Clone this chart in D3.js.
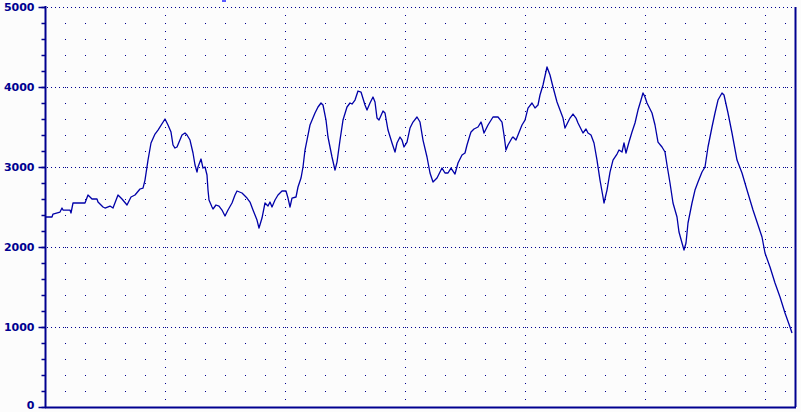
<!DOCTYPE html>
<html><head><meta charset="utf-8">
<script src="https://cdn.jsdelivr.net/npm/d3@7/dist/d3.min.js"></script>
<style>html,body{margin:0;padding:0;background:#fcfcfc;}svg{display:block;}</style>
</head><body>
<script>
const yTickValues = [0, 1000, 2000, 3000, 4000, 5000];
const yTickLabels = ["0", "1000", "2000", "3000", "4000", "5000"];
const samplePos = [0,7,8,15,17,18,25,26,28,40,43,47,52,53,58,60,65,68,73,77,82,86,90,95,98,100,103,106,110,113,120,123,126,128,130,132,137,140,142,145,148,150,152,153,156,158,160,162,163,164,167,168,171,174,177,180,183,187,190,192,197,202,205,208,212,214,217,220,223,225,227,230,233,237,241,243,245,247,251,253,256,258,260,262,265,270,273,276,278,281,283,287,290,292,295,298,302,305,307,310,313,316,320,322,325,328,330,332,334,338,340,343,347,350,352,355,357,359,362,365,368,372,375,378,382,385,388,392,395,397,400,403,406,410,413,417,420,422,425,426,429,433,436,437,439,443,448,453,457,459,461,463,467,468,471,473,477,480,483,487,490,493,495,498,502,505,508,512,515,518,520,523,525,528,531,533,538,541,543,546,549,552,555,558,559,562,565,568,572,574,577,579,581,584,587,590,593,596,598,600,602,607,610,613,617,620,622,625,628,632,634,637,639,641,643,647,650,653,657,660,663,667,670,673,677,679,683,687,692,697,702,708,713,717,720,725,730,735,740,745,747];
const altitude = [2375,2375,2412,2437,2487,2462,2462,2425,2550,2550,2650,2600,2600,2562,2500,2487,2512,2487,2650,2600,2525,2625,2650,2725,2737,2837,3087,3300,3412,3462,3600,3525,3437,3275,3237,3250,3400,3425,3400,3337,3175,3025,2937,3000,3100,2987,3000,2900,2712,2587,2500,2475,2525,2512,2462,2387,2462,2550,2650,2700,2675,2612,2562,2462,2337,2237,2362,2550,2512,2562,2500,2587,2650,2700,2700,2612,2500,2612,2625,2750,2862,3000,3212,3337,3525,3675,3750,3800,3775,3587,3375,3125,2962,3062,3337,3587,3750,3800,3787,3837,3950,3937,3775,3712,3800,3875,3812,3612,3587,3700,3675,3462,3300,3187,3300,3375,3337,3250,3312,3487,3562,3625,3562,3337,3125,2925,2812,2862,2937,2987,2925,2925,2987,2912,3050,3150,3175,3275,3400,3437,3475,3500,3562,3525,3425,3525,3625,3625,3562,3400,3212,3275,3362,3375,3337,3400,3525,3587,3737,3800,3737,3775,3900,4025,4250,4150,4000,3812,3712,3612,3487,3562,3612,3662,3612,3550,3425,3475,3425,3400,3300,3087,2837,2625,2550,2712,2937,3087,3162,3212,3187,3300,3175,3312,3437,3550,3712,3837,3925,3875,3800,3675,3525,3312,3250,3187,3025,2800,2550,2375,2187,2050,1962,2050,2300,2550,2712,2812,2937,3000,3250,3500,3675,3837,3925,3900,3675,3425,3087,2925,2712,2462,2275,2125,1925,1750,1550,1375,1175,1000,925];

const W = 801, H = 412;
const plotLeft = 45, plotRight = 795, plotTop = 7, plotBottom = 407;
const axisColor = "#000090", lineColor = "#0000a8";

const svg = d3.select("body").append("svg").attr("width", W).attr("height", H);
svg.append("rect").attr("width", W).attr("height", H).attr("fill", "#fcfcfc");

const x = d3.scaleLinear().domain([0, 750]).range([plotLeft, plotRight]);
const y = d3.scaleLinear().domain([0, 5000]).range([plotBottom, plotTop]);

const g = svg.append("g");
const minorX = d3.range(20, 750, 20).filter(v => v % 120 !== 0);
g.selectAll("line.mv").data(minorX).join("line")
  .attr("x1", d => Math.round(x(d)) + 0.5).attr("x2", d => Math.round(x(d)) + 0.5)
  .attr("y1", y(5000) + 16).attr("y2", plotBottom)
  .attr("stroke", axisColor).attr("stroke-dasharray", "1,15").attr("stroke-width", 1);
const majorX = d3.range(120, 750, 120);
g.selectAll("line.Mv").data(majorX).join("line")
  .attr("x1", d => Math.round(x(d)) + 0.5).attr("x2", d => Math.round(x(d)) + 0.5)
  .attr("y1", y(5000) + 8).attr("y2", plotBottom)
  .attr("stroke", axisColor).attr("stroke-dasharray", "1,7").attr("stroke-width", 1);
g.selectAll("line.Mh").data(yTickValues.filter(v => v > 0)).join("line")
  .attr("x1", plotLeft + 2).attr("x2", plotRight)
  .attr("y1", d => Math.round(y(d)) + 0.5).attr("y2", d => Math.round(y(d)) + 0.5)
  .attr("stroke", axisColor).attr("stroke-dasharray", "1,3").attr("stroke-width", 1);

const n = Math.min(samplePos.length, altitude.length);
const line = d3.line().x((d, i) => x(samplePos[i])).y(d => y(d));
svg.append("path").datum(altitude.slice(0, n)).attr("d", line)
  .attr("fill", "none").attr("stroke", lineColor).attr("stroke-width", 1.3)
  .attr("stroke-linejoin", "round");

const yAxis = d3.axisLeft(y).tickValues(d3.range(0, 5001, 200)).tickSize(4).tickFormat("");
const ya = svg.append("g").attr("transform", `translate(${plotLeft + 0.5},0)`).call(yAxis);
ya.select(".domain").remove();
ya.selectAll(".tick line").attr("stroke", axisColor).attr("stroke-width", 1.5);
const majorAxis = d3.axisLeft(y).tickValues(yTickValues).tickSize(7)
  .tickFormat((d, i) => yTickLabels[i]).tickPadding(4);
const ym = svg.append("g").attr("transform", `translate(${plotLeft + 0.5},0)`).call(majorAxis);
ym.select(".domain").remove();
ym.selectAll(".tick line").attr("stroke", axisColor).attr("stroke-width", 1.5);
ym.selectAll(".tick text").attr("fill", axisColor)
  .attr("dy", d => d === 0 ? "0.1em" : "0.32em")
  .style("font-family", "'DejaVu Sans', sans-serif").style("font-weight", "bold").style("font-size", "11px");

svg.append("line").attr("x1", plotLeft + 0.5).attr("x2", plotLeft + 0.5).attr("y1", plotTop - 1).attr("y2", plotBottom + 1)
  .attr("stroke", axisColor).attr("stroke-width", 2);
svg.append("line").attr("x1", plotLeft).attr("x2", plotRight + 1).attr("y1", plotBottom + 0.5).attr("y2", plotBottom + 0.5)
  .attr("stroke", axisColor).attr("stroke-width", 2);
svg.append("line").attr("x1", plotRight + 0.5).attr("x2", plotRight + 0.5).attr("y1", plotTop).attr("y2", plotBottom)
  .attr("stroke", axisColor).attr("stroke-width", 2);

svg.append("rect").attr("x", x(177)).attr("y", 0).attr("width", 4).attr("height", 2).attr("fill", "#5a5aff");
</script>
</body></html>
